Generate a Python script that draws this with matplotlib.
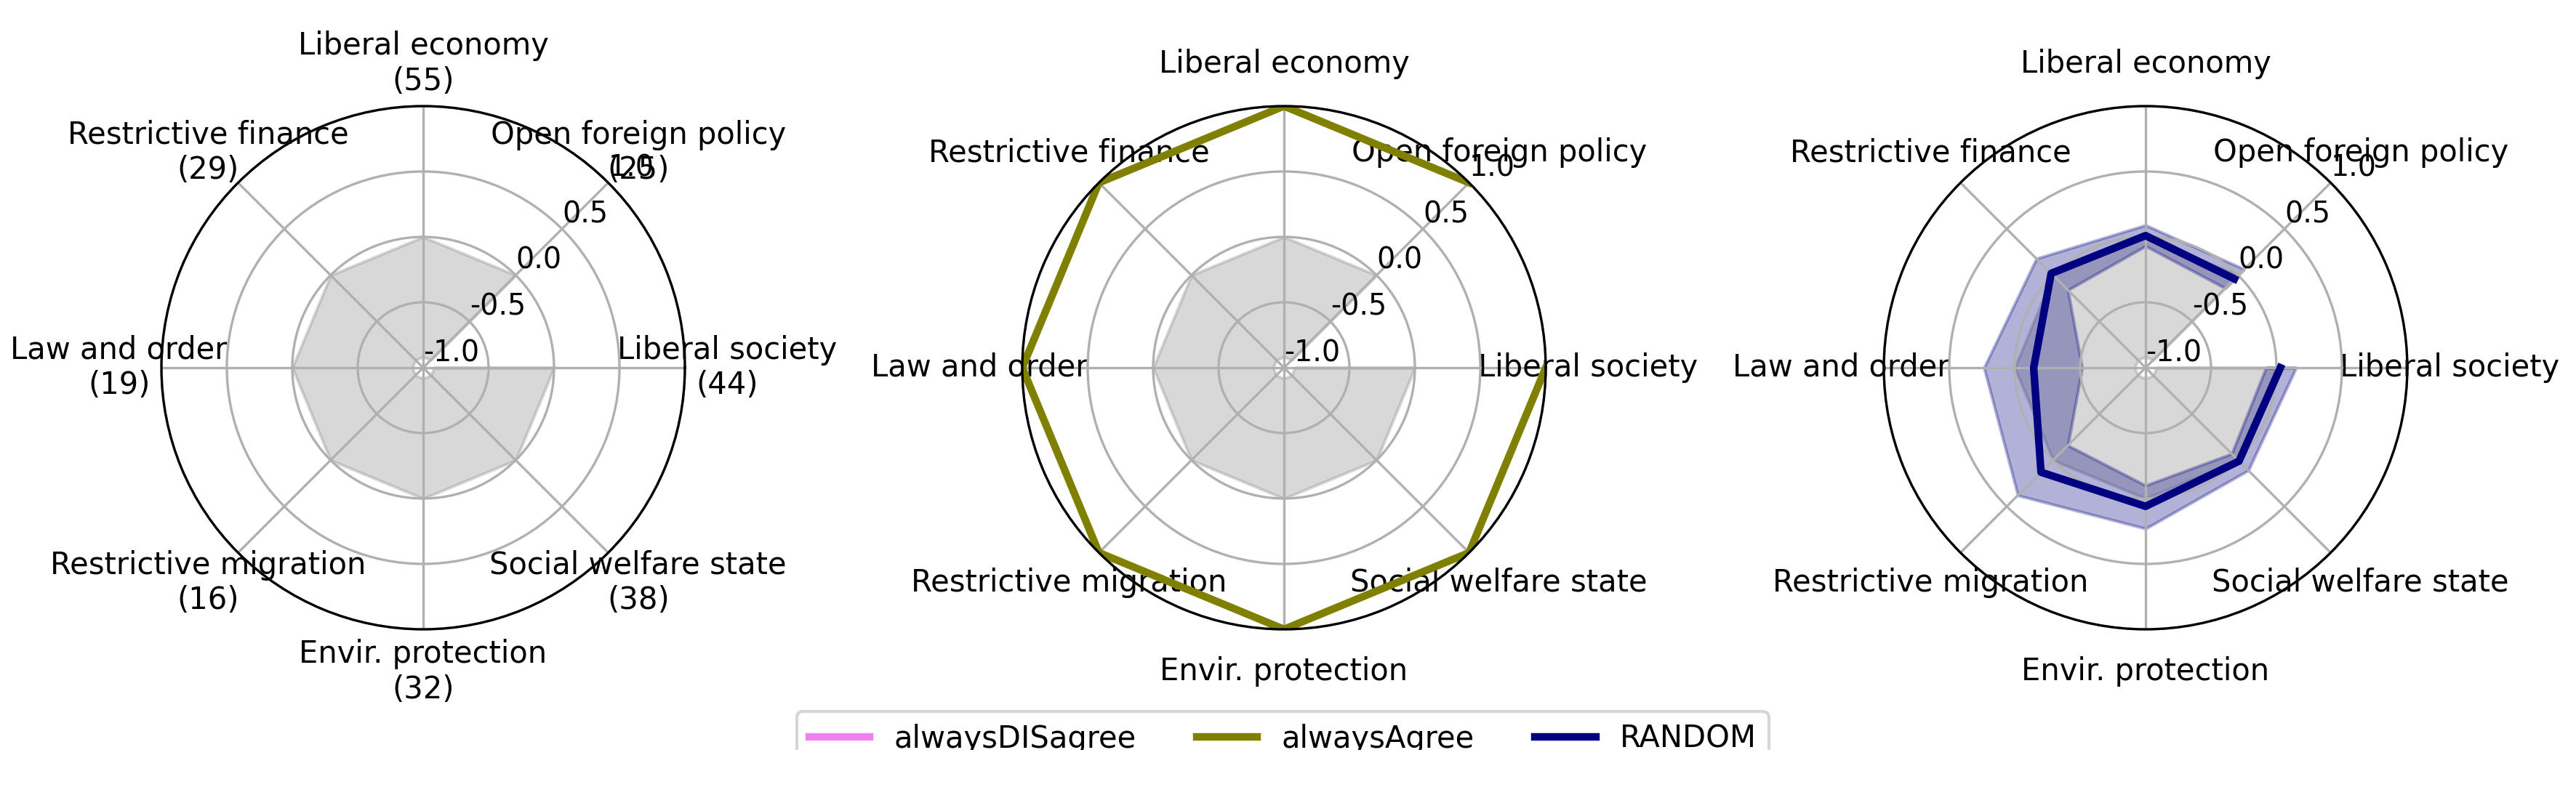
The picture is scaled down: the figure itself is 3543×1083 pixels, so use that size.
import numpy as np
import matplotlib.pyplot as plt
from matplotlib.lines import Line2D
from matplotlib.patches import Rectangle

# dimensions in plotting order (clockwise, starting at 3 o'clock)
dims = [
    "Liberal society",
    "Social welfare state",
    "Envir. protection",
    "Restrictive migration",
    "Law and order",
    "Restrictive finance",
    "Liberal economy",
    "Open foreign policy",
]
counts = [44, 38, 32, 16, 19, 29, 55, 25]

# neutral reference band
neutral_low = [-0.917] * 8
neutral_high = [0.0] * 8

always_agree = [1.0] * 8
always_disagree = [-1.0] * 8

random_mean = [0.03, 0.01, 0.06, 0.13, -0.145, 0.02, 0.01, -0.04]
random_low = [-0.08, -0.07, -0.10, -0.16, -0.515, -0.16, -0.07, -0.14]
random_high = [0.15, 0.11, 0.23, 0.38, 0.235, 0.18, 0.09, 0.065]

rticks = [-1.0, -0.5, 0.0, 0.5, 1.0]

angles = np.linspace(0, 2 * np.pi, len(dims), endpoint=False)

fig = plt.figure(figsize=(11.81, 3.61), dpi=300)

W = 720 / 3543
H = 720 / 1083
bottom = (1083 - 506 - 360) / 1083
lefts = [(582 - 360) / 3543, (1766 - 360) / 3543, (2951 - 360) / 3543]


def setup(ax, labels):
    ax.set_theta_direction(-1)
    ax.set_theta_offset(0)
    ax.set_ylim(-1.0, 1.0)
    ax.set_xticks(angles)
    ax.set_xticklabels(labels, fontsize=10)
    ax.set_yticks(rticks)
    ax.set_yticklabels([f"{t:.1f}" for t in rticks], fontsize=9.5)
    ax.set_rlabel_position(315)
    ax.tick_params(axis="x", pad=3.5)
    ax.fill_between(angles, neutral_low, neutral_high, color="grey", alpha=0.3)


axes = [fig.add_axes([l, bottom, W, H], projection="polar") for l in lefts]

setup(axes[0], [f"{d}\n({c})" for d, c in zip(dims, counts)])
setup(axes[1], dims)
setup(axes[2], dims)

axes[1].plot(angles, always_disagree, color="violet", lw=2.5)
axes[1].plot(angles, always_agree, color="olive", lw=2.5)

axes[2].fill_between(angles, random_low, random_high, color="navy", alpha=0.3)
axes[2].plot(angles, random_mean, color="navy", lw=2.5)

handles = [
    Line2D([], [], color="violet", lw=2.5),
    Line2D([], [], color="olive", lw=2.5),
    Line2D([], [], color="navy", lw=2.5),
]
fig.legend(
    handles,
    ["alwaysDISagree", "alwaysAgree", "RANDOM"],
    loc="upper center",
    bbox_to_anchor=(0.498, 0.115),
    ncol=3,
    fontsize=10,
)

# the source image is cut off just below the legend text
fig.add_artist(
    Rectangle((0, 0), 1, (1083 - 1032) / 1083, transform=fig.transFigure,
              facecolor="white", edgecolor="none", zorder=10)
)

fig.savefig("out.png", dpi=300)
